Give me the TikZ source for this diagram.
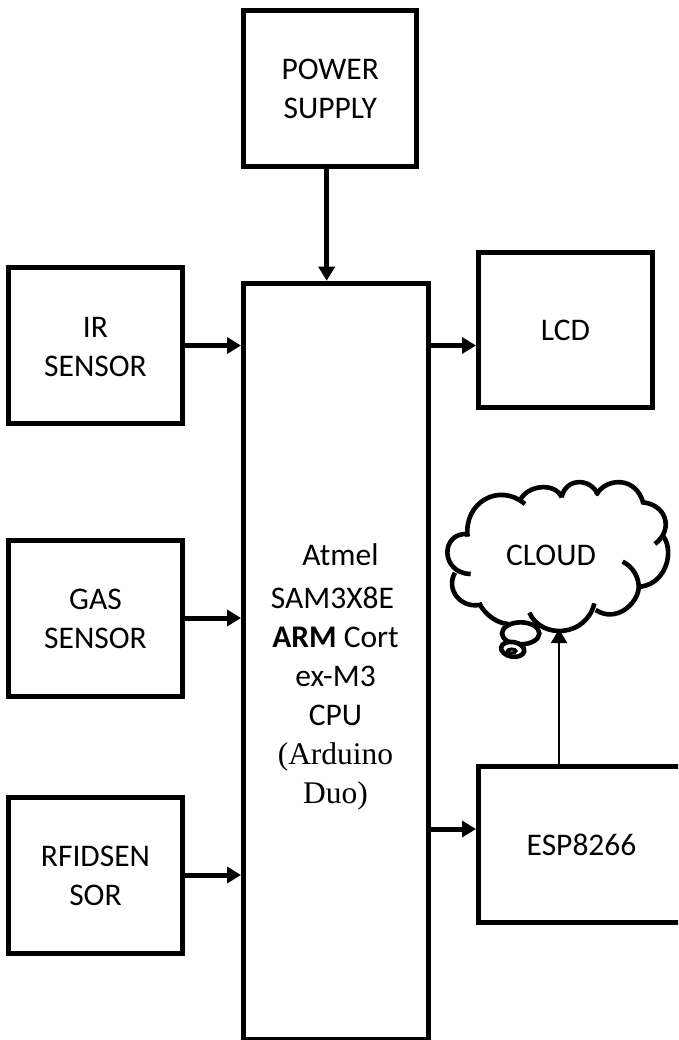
\documentclass[tikz,border=0pt]{standalone}
\usepackage{fontspec}
\setmainfont{Carlito}
\newfontfamily\serifpart{Liberation Serif}
\usetikzlibrary{arrows.meta}
\newcommand{\dropline}{\rule{0pt}{22.5pt}}
\tikzset{
  x=1pt,y=-1pt,
  boxnode/.style={draw=black,line width=5pt,rectangle,inner sep=0pt,align=center,font=\fontsize{31.5}{39}\selectfont},
  labelnode/.style={inner sep=0pt,align=center,font=\fontsize{31.5}{39}\selectfont},
  thickarrow/.style={line width=5pt,-{Triangle[width=16pt,length=14pt]}},
  thinarrow/.style={line width=2pt,-{Triangle[width=16pt,length=14pt]}},
  cloudline/.style={line width=4.6pt,line cap=butt},
}
\begin{document}
\begin{tikzpicture}
\useasboundingbox (0,0) rectangle (678,1040);
\clip (0,0) rectangle (678,1040);
\node[boxnode,minimum width=173.5pt,minimum height=156pt] (power) at (330.2,88.5) {POWER\\SUPPLY};
\node[boxnode,minimum width=185pt,minimum height=756.5pt] (main) at (336,661.5) {};
\node[boxnode,minimum width=174pt,minimum height=156pt] (ir) at (95.5,345.5) {\dropline IR\\SENSOR};
\node[boxnode,minimum width=174pt,minimum height=156pt] (gas) at (95.5,618) {\dropline GAS\\SENSOR};
\node[boxnode,minimum width=174pt,minimum height=156pt] (rfid) at (95.5,875) {\dropline RFIDSEN\\SOR};
\node[boxnode,minimum width=174pt,minimum height=155pt] (lcd) at (565.5,330) {\raisebox{-1pt}{LCD}};
\node[boxnode,minimum width=206pt,minimum height=156pt] (esp) at (581.5,844.5) {\raisebox{-1pt}{ESP8266}};
\node[labelnode] (cpu) at (335.5,677) {\hspace*{10pt}Atmel\\[4pt]\hspace*{-6pt}SAM3X8E\\\textbf{ARM} Cort\\ex-M3\\CPU\\{\serifpart (Arduino}\\{\serifpart Duo)}};
\node[labelnode] (cloud) at (551,555.5) {CLOUD};
\coordinate (cloudtip) at (559,629);
\coordinate (pwrout) at ([xshift=-3.5pt]power.south);
\coordinate (lcdin) at ([yshift=-15.5pt]lcd.west);
\coordinate (espin) at ([yshift=15.5pt]esp.west);

\draw[thickarrow] (pwrout) -- (pwrout |- main.north);
\draw[thickarrow] (ir.east) -- (ir.east -| main.west);
\draw[thickarrow] (gas.east) -- (gas.east -| main.west);
\draw[thickarrow] (rfid.east) -- (rfid.east -| main.west);
\draw[thickarrow] (lcdin -| main.east) -- (lcdin);
\draw[thickarrow] (espin -| main.east) -- (espin);
\draw[thinarrow] (cloudtip |- esp.north) -- (cloudtip);

\begin{scope}[shift={(430,460)},x=0.33333pt,y=-0.33333pt]
  % thought bubble
  \draw[cloudline] (272,520) ellipse [x radius=56, y radius=33];
  \draw[cloudline,fill=white] (248,568) ellipse [x radius=35, y radius=22, rotate=-10];
  \draw[cloudline,line width=3pt] (245,573) ellipse [x radius=13, y radius=6];
  % cloud outline, lobe by lobe
  \draw[cloudline] (113,230) .. controls (100,130) and (205,65) .. (285,132);
  \draw[cloudline] (270,122) .. controls (290,75) and (375,65) .. (395,112);
  \draw[cloudline] (395,112) .. controls (405,55) and (480,50) .. (505,105);
  \draw[cloudline] (498,105) .. controls (530,50) and (620,50) .. (640,130);
  \draw[cloudline] (635,127) .. controls (705,130) and (735,205) .. (675,252);
  \draw[cloudline] (697,225) .. controls (735,270) and (710,370) .. (632,380);
  \draw[cloudline] (578,305) .. controls (610,320) and (628,355) .. (626,385)
                   .. controls (622,430) and (560,490) .. (497,450);
  \draw[cloudline] (493,430) .. controls (470,530) and (335,540) .. (298,458);
  \draw[cloudline] (147,430) .. controls (170,470) and (205,490) .. (235,492);
  \draw[cloudline] (157,433) .. controls (95,450) and (45,390) .. (75,338);
  \draw[cloudline] (122,342) .. controls (30,340) and (30,215) .. (115,222);
\end{scope}
\end{tikzpicture}
\end{document}
